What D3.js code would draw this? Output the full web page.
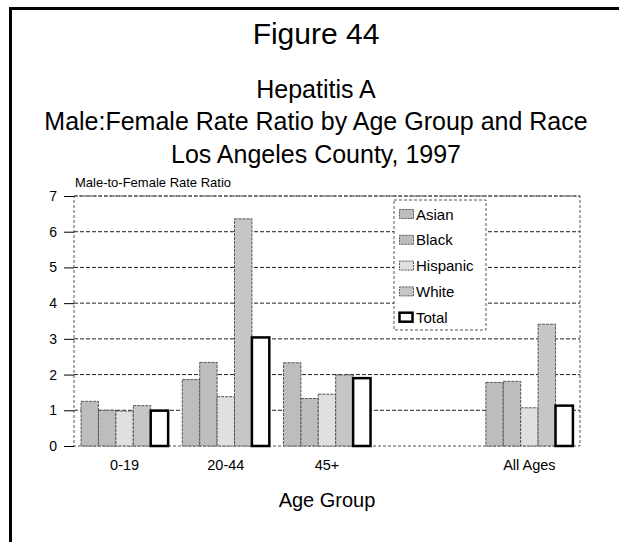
<!DOCTYPE html>
<html>
<head>
<meta charset="utf-8">
<script src="https://cdn.jsdelivr.net/npm/d3@7"></script>
<style>
  body { margin: 0; background: #fff; }
  text { font-family: "Liberation Sans", Arial, sans-serif; fill: #000; }
</style>
</head>
<body>
<div id="chart"></div>
<script>
// age groups; the blank slot leaves the gap before "All Ages"
const ageGroups = ["0-19", "20-44", "45+", "", "All Ages"];
const races = ["Asian", "Black", "Hispanic", "White", "Total"];
const asianValues = [1.25, 1.86, 2.33, null, 1.78];
const blackValues = [1.0, 2.34, 1.33, null, 1.81];
const hispanicValues = [0.98, 1.38, 1.45, null, 1.07];
const whiteValues = [1.13, 6.36, 1.99, null, 3.41];
const totalValues = [0.99, 3.04, 1.9, null, 1.13];
const yTicks = [0, 1, 2, 3, 4, 5, 6, 7];

const fills = ["#bdbdbd", "#bdbdbd", "#e0e0e0", "#c6c6c6", "#fff"];

const W = 619, H = 542;
const margin = { top: 196, right: 39, bottom: 96, left: 74 };
const width = W - margin.left - margin.right;
const height = H - margin.top - margin.bottom;

const svg = d3.select("#chart").append("svg")
  .attr("width", W)
  .attr("height", H);

// frame: top and left edges only
svg.append("path")
  .attr("d", `M10.5,${H} V8.5 H${W}`)
  .attr("fill", "none")
  .attr("stroke", "#000")
  .attr("stroke-width", 3);

const titles = [
  { t: "Figure 44", y: 44, s: 30 },
  { t: "Hepatitis A", y: 98, s: 25 },
  { t: "Male:Female Rate Ratio by Age Group and Race", y: 130, s: 25 },
  { t: "Los Angeles County, 1997", y: 163, s: 25 },
];
svg.selectAll(".title").data(titles).enter().append("text")
  .attr("class", "title")
  .attr("x", 316)
  .attr("y", (d) => d.y)
  .attr("text-anchor", "middle")
  .style("font-size", (d) => d.s + "px")
  .text((d) => d.t);

const g = svg.append("g")
  .attr("transform", `translate(${margin.left},${margin.top})`);

const x = d3.scaleBand()
  .domain(ageGroups)
  .range([0, width])
  .paddingInner(0.14)
  .paddingOuter(0.07);

const xs = d3.scaleBand()
  .domain(races)
  .range([0, x.bandwidth()]);

const y = d3.scaleLinear()
  .domain([0, 7])
  .range([height, 0]);

// gridlines
g.selectAll(".grid").data(yTicks.slice(1)).enter().append("line")
  .attr("x1", 0)
  .attr("x2", width)
  .attr("y1", (d) => y(d))
  .attr("y2", (d) => y(d))
  .attr("stroke", "#222")
  .attr("stroke-dasharray", "4,2");

// plot border
g.append("rect")
  .attr("width", width)
  .attr("height", height)
  .attr("fill", "none")
  .attr("stroke", "#555")
  .attr("stroke-dasharray", "3,2");

const seriesValues = [asianValues, blackValues, hispanicValues, whiteValues, totalValues];
const barData = [];
ageGroups.forEach((a, i) => {
  races.forEach((r, j) => {
    if (seriesValues[j][i] != null) {
      barData.push({ age: a, race: r, idx: j, value: seriesValues[j][i] });
    }
  });
});

g.selectAll(".bar").data(barData).enter().append("rect")
  .attr("class", "bar")
  .attr("x", (d) => x(d.age) + xs(d.race))
  .attr("y", (d) => y(d.value))
  .attr("width", xs.bandwidth())
  .attr("height", (d) => height - y(d.value))
  .attr("fill", (d) => fills[d.idx])
  .attr("stroke", (d) => (d.race === "Total" ? "#000" : "#555"))
  .attr("stroke-width", (d) => (d.race === "Total" ? 2.5 : 1))
  .attr("stroke-dasharray", (d) => (d.race === "Total" ? null : "3,1"));

// y axis
const yAxis = g.append("g")
  .call(d3.axisLeft(y).tickValues(yTicks).tickFormat(d3.format("d")).tickSize(10).tickPadding(7));
yAxis.select(".domain").remove();
yAxis.selectAll("line").attr("stroke", "#000");
yAxis.selectAll("text").style("font-size", "14px").attr("font-family", null);

// x axis labels
const xAxis = g.append("g")
  .attr("transform", `translate(0,${height})`)
  .call(d3.axisBottom(x).tickSize(0).tickPadding(14));
xAxis.select(".domain").remove();
xAxis.selectAll("text").style("font-size", "14.5px").attr("font-family", null);

g.append("text")
  .attr("x", x("45+") + x.bandwidth() / 2)
  .attr("y", height + 61)
  .attr("text-anchor", "middle")
  .style("font-size", "20px")
  .text("Age Group");

g.append("text")
  .attr("x", 1)
  .attr("y", -9)
  .style("font-size", "13px")
  .text("Male-to-Female Rate Ratio");

// legend
const legend = g.append("g")
  .attr("transform", `translate(${394 - margin.left},${200 - margin.top})`);
legend.append("rect")
  .attr("width", 92)
  .attr("height", 130)
  .attr("fill", "#fff")
  .attr("stroke", "#555")
  .attr("stroke-dasharray", "3,2");
const items = legend.selectAll(".item").data(races).enter().append("g")
  .attr("transform", (d, i) => `translate(5,${14 + i * 25.8})`);
items.append("rect")
  .attr("x", 0.5)
  .attr("y", -4.5)
  .attr("width", (d) => (d === "Total" ? 13 : 14))
  .attr("height", 9)
  .attr("fill", (d, i) => fills[i])
  .attr("stroke", (d) => (d === "Total" ? "#000" : "#555"))
  .attr("stroke-width", (d) => (d === "Total" ? 2.5 : 1))
  .attr("stroke-dasharray", (d) => (d === "Total" ? null : "2,1"));
items.append("text")
  .attr("x", 17)
  .attr("y", 5.5)
  .style("font-size", "15px")
  .text((d) => d);
</script>
</body>
</html>
